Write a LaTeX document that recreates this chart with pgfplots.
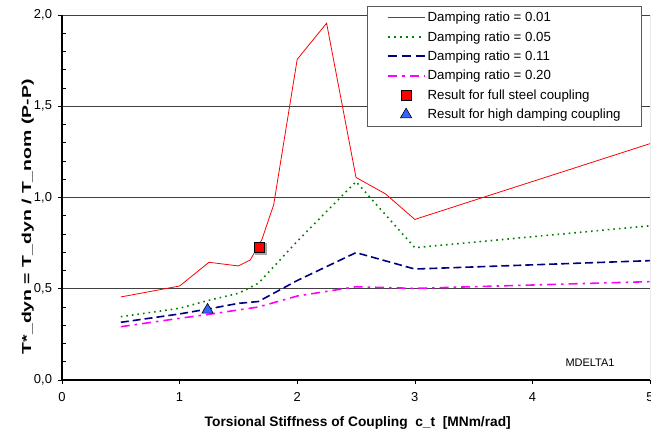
\documentclass[border=0pt]{standalone}
\usepackage{pgfplots}
\pgfplotsset{compat=1.18}
\usepackage{graphicx}
\usepackage{fontspec}
\setmainfont{Liberation Sans}

\definecolor{dampA}{RGB}{255,0,0}
\definecolor{dampB}{RGB}{0,128,0}
\definecolor{dampC}{RGB}{0,0,128}
\definecolor{dampD}{RGB}{255,0,255}
\definecolor{triblue}{RGB}{51,102,255}

\begin{document}
\begin{tikzpicture}
\useasboundingbox (0,0) rectangle (651bp,434bp);
\begin{axis}[
  at={(62bp,54bp)}, anchor=south west,
  width=588bp, height=365bp, scale only axis,
  xmin=0, xmax=5, ymin=0, ymax=2,
  axis x line*=bottom, axis y line*=left,
  axis line style={black, line width=1.4pt, -},
  xtick={0,1,2,3,4,5},
  ytick={0,0.5,1,1.5,2},
  tick align=outside, major tick length=4bp,
  tick style={black, line width=0.6pt},
  extra y ticks={0.1,0.2,0.3,0.4,0.6,0.7,0.8,0.9,1.1,1.2,1.3,1.4,1.6,1.7,1.8,1.9},
  extra y tick labels={},
  extra y tick style={tick align=inside, grid=none},
  ymajorgrids,
  major grid style={black!75, line width=0.6pt},
  /pgf/number format/assume math mode=true,
  ticklabel style={font=\fontsize{13}{15}\selectfont},
  yticklabel style={xshift=-2.5bp, /pgf/number format/.cd, fixed, fixed zerofill, precision=1, use comma},
  xticklabel style={yshift=-5bp, /pgf/number format/.cd, fixed, precision=0},
  xlabel={Torsional Stiffness of Coupling\ \ c\_t\ \ [MNm/rad]},
  ylabel={\scalebox{1.5}[1]{T*\_dyn = T\_dyn / T\_nom (P-P)}},
  xlabel style={font=\fontsize{13.8}{15}\selectfont\bfseries,
    at={(axis description cs:0.503,-0.118)}, anchor=center},
  ylabel style={font=\fontsize{13}{15}\selectfont\bfseries,
    at={(axis description cs:-0.058,0.447)}, anchor=center},
  legend style={at={(axis description cs:0.986,1.0247)}, anchor=north east,
    draw=black!65, fill=white,
    font=\fontsize{13.3}{15}\selectfont,
    inner xsep=19bp, inner ysep=4bp, row sep=4.3bp},
  legend cell align=left,
  legend image code/.code={\draw[mark repeat=2,mark phase=2]
    plot coordinates {(0bp,0bp) (18.5bp,0bp) (37bp,0bp)};},
]
\addplot[dampA, line width=0.8pt,
  legend image code/.code={\draw[dampA, line width=0.8pt] (0bp,0bp) -- (37bp,0bp);}] coordinates {
  (0.5,0.455) (1,0.515) (1.25,0.645) (1.5,0.625) (1.6,0.657) (1.7,0.77)
  (1.8,0.96) (2,1.757) (2.25,1.955) (2.5,1.11) (2.75,1.02) (3,0.88) (5,1.295)
};
\addlegendentry{Damping ratio = 0.01}
\addplot[dampB, line width=1.6pt, dash pattern=on 1.6bp off 4bp,
  legend image code/.code={\draw[dampB, line width=2pt, dash pattern=on 2bp off 4.2bp] (0bp,0bp) -- (37bp,0bp);}] coordinates {
  (0.5,0.347) (1,0.393) (1.25,0.437) (1.5,0.475) (1.67,0.53) (2,0.76)
  (2.5,1.087) (3,0.725) (5,0.845)
};
\addlegendentry{Damping ratio = 0.05}
\addplot[dampC, line width=1.6pt, dash pattern=on 8bp off 4bp,
  legend image code/.code={\draw[dampC, line width=2pt, dash pattern=on 9bp off 5bp] (0bp,0bp) -- (37bp,0bp);}] coordinates {
  (0.5,0.316) (1,0.362) (1.25,0.39) (1.5,0.42) (1.67,0.43) (2,0.545)
  (2.5,0.698) (3,0.608) (5,0.654)
};
\addlegendentry{Damping ratio = 0.11}
\addplot[dampD, line width=1.6pt, dash pattern=on 9bp off 5bp on 2.5bp off 5bp,
  legend image code/.code={\draw[dampD, line width=2pt, dash pattern=on 9bp off 5bp on 3bp off 5bp] (0bp,0bp) -- (37bp,0bp);}] coordinates {
  (0.5,0.292) (1,0.338) (1.25,0.36) (1.67,0.40) (2,0.46)
  (2.5,0.511) (3,0.502) (5,0.539)
};
\addlegendentry{Damping ratio = 0.20}
\addplot[forget plot, only marks, black!35, mark=square*, mark size=5.3bp,
  mark options={xshift=1.5bp, yshift=-1.5bp}] coordinates {(1.677,0.728)};
\addplot[only marks, mark=square*, mark size=5.3bp,
  mark options={fill=red, draw=black, line width=0.6pt, solid}] coordinates {(1.677,0.728)};
\addlegendentry{Result for full steel coupling}
\addplot[only marks, mark=triangle*, mark size=6.5bp,
  mark options={fill=triblue, draw=black, line width=0.6pt, solid}] coordinates {(1.238,0.384)};
\addlegendentry{Result for high damping coupling}
\draw[black!70, line width=0.8pt] (rel axis cs:1,0) -- (rel axis cs:1,1);
\node[font=\fontsize{11}{13}\selectfont] at (axis cs:4.49,0.095) {MDELTA1};
\end{axis}
\end{tikzpicture}
\end{document}
